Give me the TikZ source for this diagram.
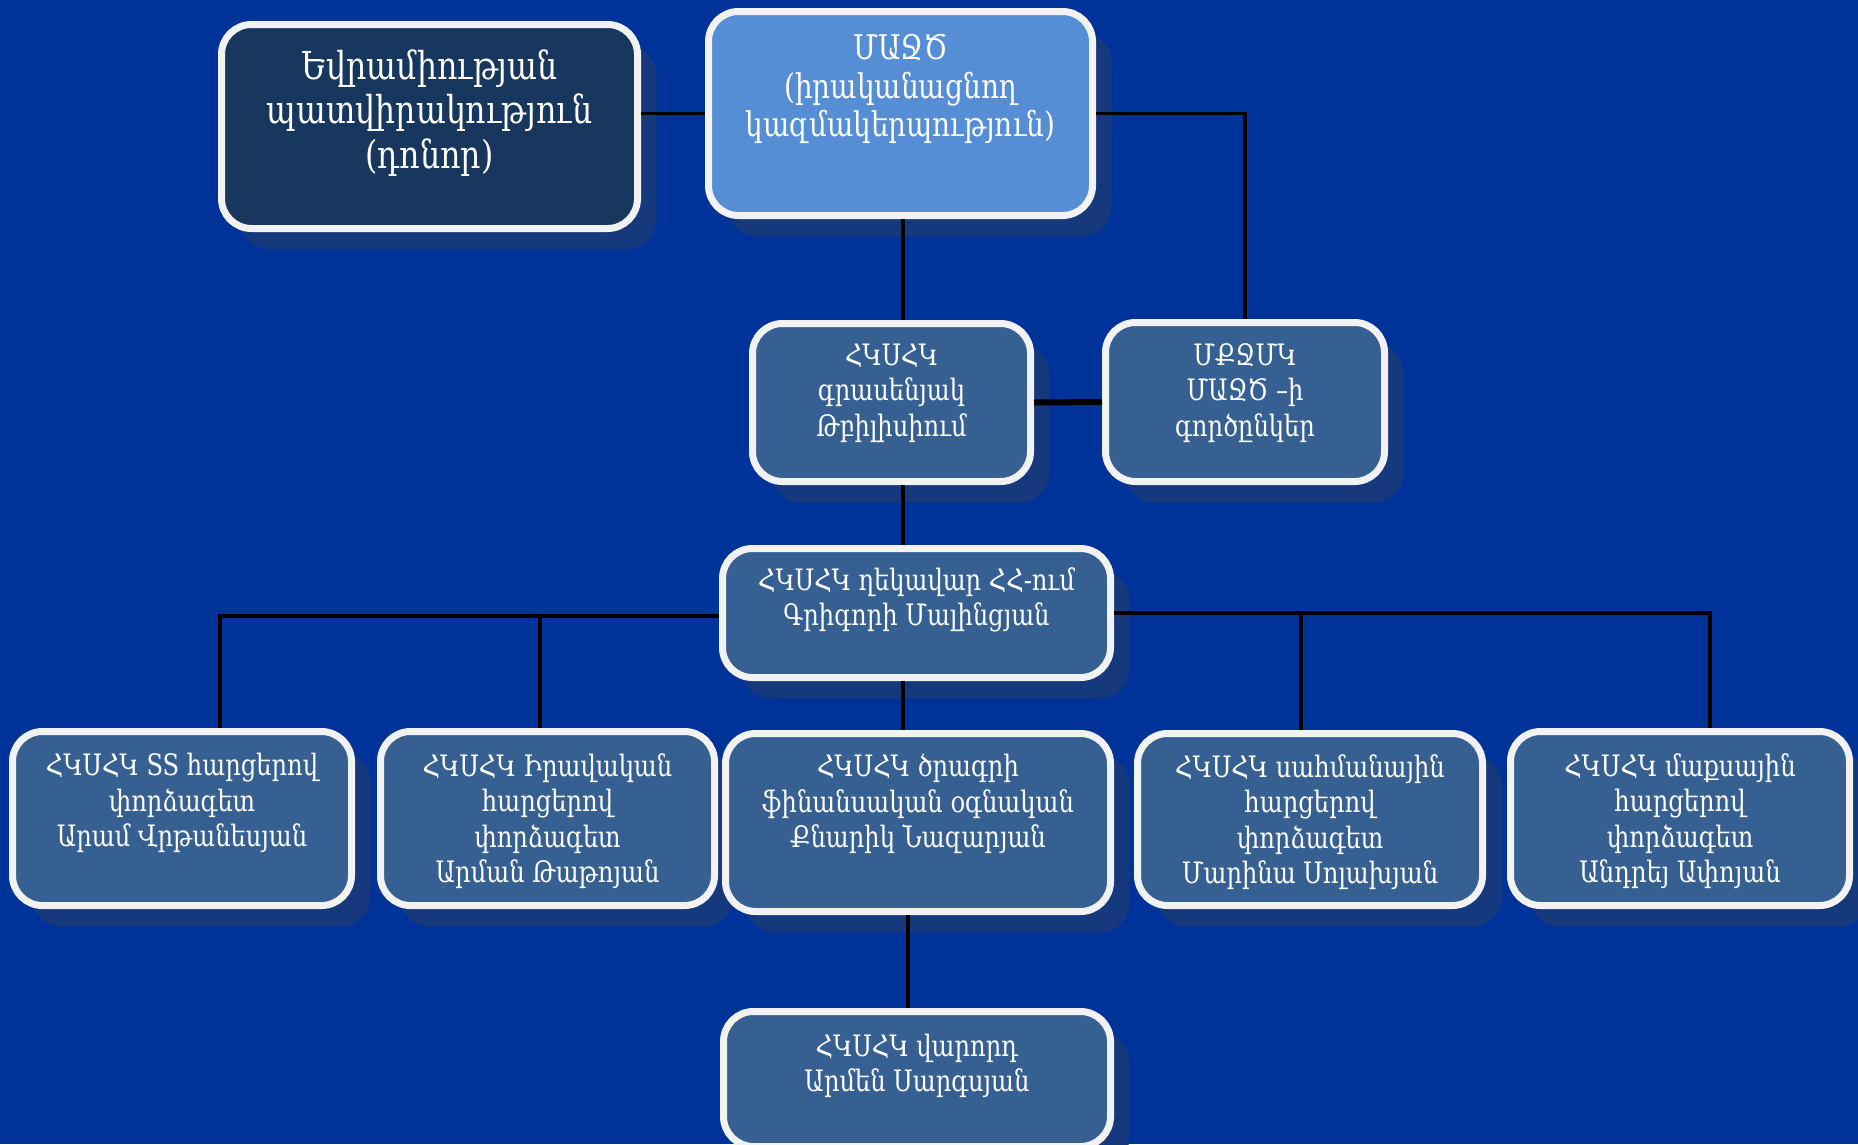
\documentclass[tikz,border=0pt]{standalone}
\usepackage{fontspec}
\setmainfont[FakeStretch=0.82]{DejaVu Serif}
\usetikzlibrary{shadows}
\definecolor{bg}{RGB}{0,51,153}
\definecolor{boxfill}{RGB}{54,96,146}
\definecolor{eufill}{RGB}{23,55,94}
\definecolor{mazdfill}{RGB}{85,142,213}
\definecolor{rim}{RGB}{242,242,242}
\definecolor{shade}{RGB}{22,56,125}
\tikzset{
  orgbox/.style={draw=rim, line width=7pt, rounded corners=30pt, fill=boxfill,
    inner sep=0pt, drop shadow={shadow xshift=19pt, shadow yshift=-21pt, fill=shade, opacity=1}},
  sz/.style 2 args={minimum width=#1, minimum height=#2},
  txt/.style={text=white, align=center, inner sep=0pt, font=\fontsize{29.5}{35.5}\selectfont},
  conn/.style={draw=black, line width=3.5pt},
}
\begin{document}
\begin{tikzpicture}[x=1pt, y=-1pt]
\useasboundingbox (0,0) rectangle (1858,1144);
\fill[bg] (0,0) rectangle (1858,1144);

% boxes
\node[orgbox, fill=eufill, sz={416pt}{204pt}] (eu) at (429.5,126.5) {};
\node[orgbox, fill=mazdfill, sz={384pt}{204pt}] (mazd) at (900.5,113.5) {};
\node[orgbox, sz={278pt}{158pt}] (tb) at (891.5,402.5) {};
\node[orgbox, sz={279pt}{159pt}] (mq) at (1245,402) {};
\node[orgbox, sz={388pt}{129pt}] (hd) at (916.5,613) {};
\node[orgbox, sz={339pt}{174pt}] (b1) at (182,818.5) {};
\node[orgbox, sz={334pt}{174pt}] (b2) at (547.5,818.5) {};
\node[orgbox, sz={385pt}{178pt}] (b3) at (918,822.5) {};
\node[orgbox, sz={345pt}{172pt}] (b4) at (1310,819.5) {};
\node[orgbox, sz={339pt}{174pt}] (b5) at (1680,818.5) {};
\node[orgbox, sz={387pt}{135pt}] (bt) at (917,1079) {};

% texts
\node[txt, font=\fontsize{38.5}{44.5}\selectfont] (teu) at (429.5,113) {Եվրամիության\\պատվիրակություն\\(դոնոր)};
\node[txt, font=\fontsize{34}{38.5}\selectfont] (tmazd) at (900.5,89) {ՄԱՋԾ\\(իրականացնող\\կազմակերպություն)};
\node[txt] (ttb) at (891.5,393) {ՀԿՍՀԿ\\գրասենյակ\\Թբիլիսիում};
\node[txt] (tmq) at (1245,393) {ՄՔՋՄԿ\\ՄԱՋԾ –ի\\գործընկեր};
\node[txt] (thd) at (916.5,600) {ՀԿՍՀԿ ղեկավար ՀՀ-ում\\Գրիգորի Մալինցյան};
\node[txt] (tb1) at (182,803) {ՀԿՍՀԿ SS հարցերով\\փորձագետ\\Արամ Վրթանեսյան};
\node[txt] (tb2) at (547.5,821) {ՀԿՍՀԿ Իրավական\\հարցերով\\փորձագետ\\Արման Թաթոյան};
\node[txt] (tb3) at (918,804) {ՀԿՍՀԿ ծրագրի\\ֆինանսական օգնական\\Քնարիկ Նազարյան};
\node[txt] (tb4) at (1310,822) {ՀԿՍՀԿ սահմանային\\հարցերով\\փորձագետ\\Մարինա Սոլախյան};
\node[txt] (tb5) at (1680,821) {ՀԿՍՀԿ մաքսային\\հարցերով\\փորձագետ\\Անդրեյ Ափոյան};
\node[txt] (tbt) at (917,1066) {ՀԿՍՀԿ վարորդ\\Արմեն Սարգսյան};

% connector helper points
\coordinate (spine) at (903,0);
\coordinate (jl) at (220,616);
\coordinate (jr) at (1710,613);
\coordinate (jl2) at (540,616);
\coordinate (jr2) at (1301,613);
\coordinate (low) at (908,0);

% connectors
\draw[conn] (mazd.west -| eu.east) -- (mazd.west);
\draw[conn] (mazd.east) -| (mq.north);
\draw[conn] (spine |- mazd.south) -- (spine |- tb.north);
\draw[conn, line width=6pt] (tb.east) -- (mq.west);
\draw[conn] (spine |- tb.south) -- (spine |- hd.north);
\draw[conn] (hd.west |- jl) -- (jl) -- (jl |- b1.north);
\draw[conn] (jl2) -- (jl2 |- b2.north);
\draw[conn] (hd.east |- jr) -- (jr) -- (jr |- b5.north);
\draw[conn] (jr2) -- (jr2 |- b4.north);
\draw[conn] (spine |- hd.south) -- (spine |- b3.north);
\draw[conn] (low |- b3.south) -- (low |- bt.north);
\end{tikzpicture}
\end{document}
